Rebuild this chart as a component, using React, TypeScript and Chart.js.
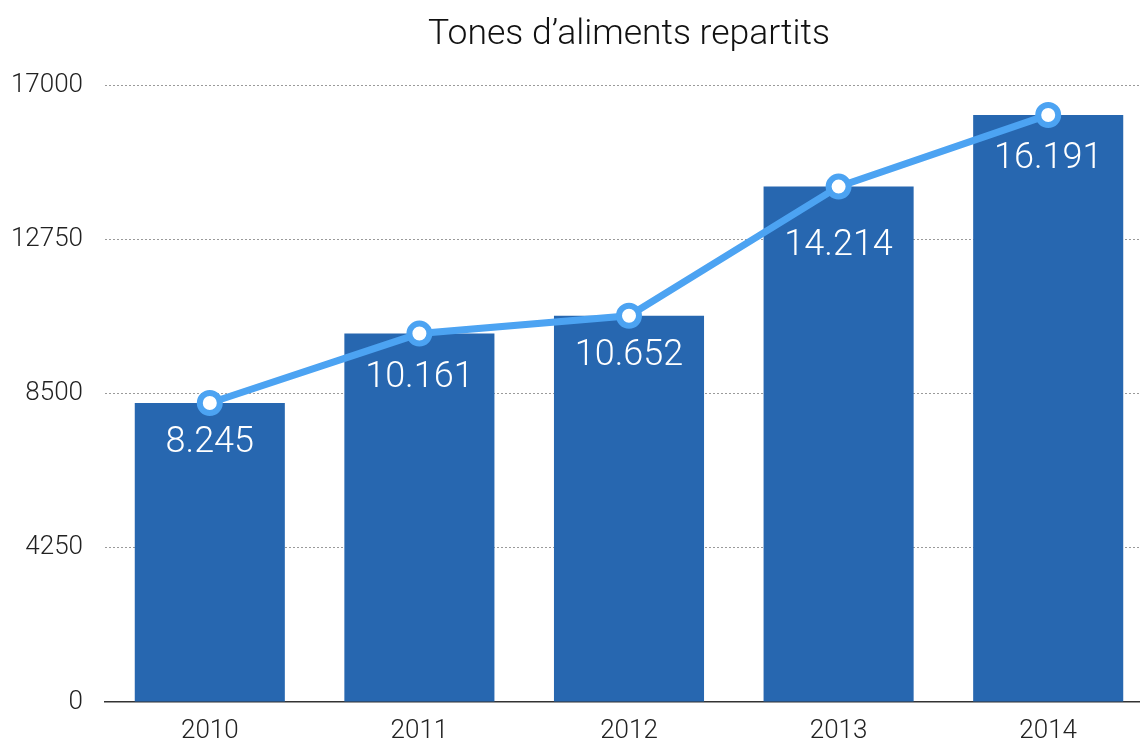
import React, { useEffect, useRef } from "react";
import { Chart, registerables } from "chart.js";

Chart.register(...registerables);

const categories = ["2010", "2011", "2012", "2013", "2014"];
const barValues = [8245, 10161, 10652, 14214, 16191];
const lineValues = [8245, 10161, 10652, 14214, 16191];
const valueLabels = ["8.245", "10.161", "10.652", "14.214", "16.191"];
const yTicks = [0, 4250, 8500, 12750, 17000];
const titleText = "Tones d\u2019aliments repartits";

const FONT = "Roboto, 'Helvetica Neue', 'Liberation Sans', sans-serif";

const barLabelPlugin = {
  id: "barLabels",
  afterDatasetsDraw(chart: any) {
    const meta = chart.getDatasetMeta(1);
    const lineMeta = chart.getDatasetMeta(0);
    const pts = lineMeta.data;
    const ctx = chart.ctx;
    ctx.save();
    ctx.fillStyle = "#ffffff";
    ctx.font = `300 36px ${FONT}`;
    ctx.textAlign = "center";
    ctx.textBaseline = "middle";
    meta.data.forEach((el: any, i: number) => {
      const w = ctx.measureText(valueLabels[i]).width;
      let y = el.y + 40;
      if (i > 0) {
        const a = pts[i - 1];
        const b = pts[i];
        const lx = el.x - w / 2;
        const ly = a.y + ((lx - a.x) / (b.x - a.x)) * (b.y - a.y);
        y = Math.max(y, ly + 26);
      }
      ctx.fillText(valueLabels[i], el.x, y);
    });
    ctx.restore();
  },
};

export default function App() {
  const ref = useRef<HTMLCanvasElement | null>(null);
  useEffect(() => {
    document.body.style.margin = "0";
    const chart = new Chart(ref.current as HTMLCanvasElement, {
      type: "bar",
      data: {
        labels: categories,
        datasets: [
          {
            type: "line",
            data: lineValues,
            borderColor: "#4ca3f2",
            borderWidth: 7,
            pointRadius: 10,
            pointBorderWidth: 6,
            pointBackgroundColor: "#ffffff",
            pointBorderColor: "#4ca3f2",
            tension: 0,
            order: 0,
          } as any,
          {
            type: "bar",
            data: barValues,
            backgroundColor: "#2767b0",
            categoryPercentage: 1,
            barPercentage: 0.716,
            order: 1,
          },
        ],
      },
      options: {
        responsive: false,
        animation: false,
        layout: { autoPadding: false, padding: { top: 0, right: 0, bottom: 0, left: 0 } },
        plugins: {
          legend: { display: false },
          tooltip: { enabled: false },
          title: {
            display: true,
            text: titleText,
            fullSize: false,
            color: "#111",
            font: { family: FONT, size: 35.5, weight: "300" as any, lineHeight: 1.2 },
            padding: { top: 14, bottom: 29 },
          },
        },
        scales: {
          x: {
            grid: { display: false, drawTicks: false },
            border: { display: true, color: "#333", width: 1.5 },
            ticks: {
              color: "#222",
              font: { family: FONT, size: 26, weight: "300" as any },
              padding: 14,
            },
            afterFit(scale: any) {
              scale.height = 40;
            },
          },
          y: {
            min: 0,
            max: 17000,
            afterBuildTicks(scale: any) {
              scale.ticks = yTicks.map((v) => ({ value: v }));
            },
            ticks: {
              color: "#222",
              font: { family: FONT, size: 26, weight: "300" as any },
              padding: 22,
              callback: (v: any) => String(v),
            },
            grid: {
              drawTicks: false,
              color: (c: any) => (c.tick && c.tick.value === 0 ? "rgba(0,0,0,0)" : "#9a9a9a"),
              lineWidth: 1,
            },
            border: { display: false, dash: [2, 2] },
            afterFit(scale: any) {
              scale.width = 105;
            },
          },
        },
      },
      plugins: [barLabelPlugin],
    });
    return () => chart.destroy();
  }, []);
  return (
    <div
      style={{
        position: "fixed",
        left: 0,
        top: 0,
        width: 1140,
        height: 742,
        overflow: "hidden",
        background: "#fff",
      }}
    >
      <div style={{ width: 1153, height: 742 }}>
        <canvas ref={ref} width={1153} height={742} style={{ display: "block" }} />
      </div>
    </div>
  );
}
